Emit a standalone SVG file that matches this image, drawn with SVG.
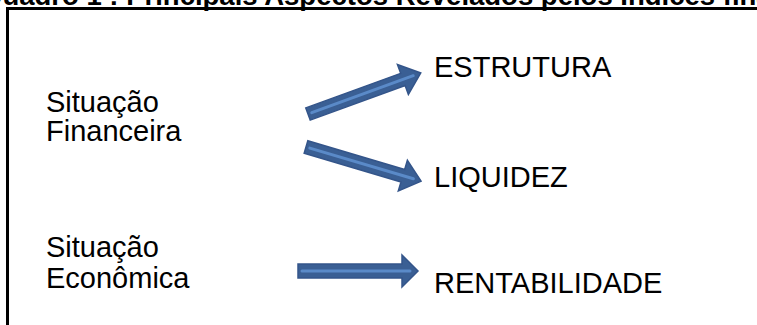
<svg xmlns="http://www.w3.org/2000/svg" width="757" height="325" viewBox="0 0 757 325">
  <style>
    .title { font-family: "Liberation Sans", Arial, sans-serif; font-weight: bold; font-size: 27.5px; fill: #000; }
    .label { font-family: "Liberation Sans", Arial, sans-serif; font-size: 29px; fill: #000; }
    .frame { fill: none; stroke: #000; stroke-width: 3; }
    .arrow-body { fill: #3A5F94; stroke: #34558A; stroke-width: 1.5; stroke-linejoin: miter; }
    .arrow-shine { stroke: #5A8AC8; stroke-width: 3; fill: none; stroke-linecap: round; }
  </style>
  <defs>
    <!-- block arrow, tail centre at origin, pointing along +x -->
    <g id="blockArrow">
      <path class="arrow-body" d="M0,-6.5 H101 V-16 L120,0 L101,16 V6.5 H0 Z"/>
      <line class="arrow-shine" x1="4" y1="0" x2="112" y2="0"/>
    </g>
  </defs>

  <rect width="757" height="325" fill="#fff"/>

  <text class="title" x="-19" y="4.5">Quadro 1 : Principais Aspectos Revelados pelos Índices financeiros</text>

  <path class="frame" d="M7.5,330 V8.5 H760"/>

  <g id="situacao-financeira">
    <text class="label" x="46" y="112">Situação</text>
    <text class="label" x="46" y="141">Financeira</text>
  </g>
  <g id="situacao-economica">
    <text class="label" x="46" y="257">Situação</text>
    <text class="label" x="46" y="288">Econômica</text>
  </g>
  <g id="estrutura">
    <text class="label" x="434" y="77">ESTRUTURA</text>
  </g>
  <g id="liquidez">
    <text class="label" x="434" y="187">LIQUIDEZ</text>
  </g>
  <g id="rentabilidade">
    <text class="label" x="434" y="293">RENTABILIDADE</text>
  </g>

  <g id="connectors">
    <use href="#blockArrow" transform="translate(308,114) rotate(-20)"/>
    <use href="#blockArrow" transform="translate(306,147) rotate(16.5)"/>
    <g transform="translate(298,271)">
      <path class="arrow-body" d="M0,-7 H104 V-16 L120,0 L104,16 V7 H0 Z"/>
      <line class="arrow-shine" x1="4" y1="0" x2="112" y2="0"/>
    </g>
  </g>
</svg>
